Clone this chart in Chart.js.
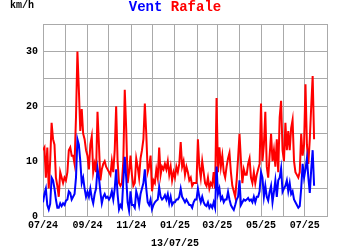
<!DOCTYPE html>
<html>
<head>
<meta charset="utf-8">
<script src="https://cdn.jsdelivr.net/npm/chart.js@4"></script>
<style>
body { margin: 0; background: #fff; }
#wrap { position: relative; width: 350px; height: 250px; }
.txt { position: absolute; font-family: "Liberation Mono", monospace; font-weight: bold; white-space: nowrap; }
</style>
</head>
<body>
<div id="wrap">
  <canvas id="chart" width="350" height="250"></canvas>
  <div class="txt" style="left:10px;top:0px;font-size:10px;color:#000">km/h</div>
  <div class="txt" style="left:0;width:350px;text-align:center;top:-1px;font-size:14px"><span style="color:#0000ff">Vent</span> <span style="color:#ff0000">Rafale</span></div>
  <div class="txt" style="left:0;width:350px;text-align:center;top:238px;font-size:10px;color:#000">13/07/25</div>
</div>
<script>
// one sample every 2 days, starting 01/07/24
const stepDays = 2

// month starts, in days since 01/07/24
const monthStarts = [0, 31, 62, 92, 123, 153, 184, 215, 243, 274, 304, 335, 365, 396]
const monthLabels = ['07/24', '', '09/24', '', '11/24', '', '01/25', '', '03/25', '', '05/25', '', '07/25', '']

// gusts (km/h)
const rafale = [
  12, 12.5, 7, 12.5, 5, 10, 17, 14, 13, 7, 5.5, 3.5, 8, 7, 6, 7,
  6.5, 8, 12, 12.5, 11, 11, 9.5, 18, 30, 23, 15.5, 19.5, 15, 14, 12,
  11, 8.5, 13, 14.5, 8, 9.5, 8, 19, 13, 6.5, 8.5, 9.5, 10, 9, 8.5,
  8, 7.5, 10, 8, 12, 20, 10, 6, 5.5, 6, 10, 23, 16, 6, 8,
  11, 7.5, 5.5, 6, 10.5, 9, 7, 10.5, 12, 14, 20.5, 15, 8, 9, 11,
  4.5, 6.5, 6, 8.5, 7, 12.5, 7.5, 9, 8.5, 9.5, 8.5, 10, 7.5, 9, 6.5, 8,
  7, 9, 8, 9.5, 13.5, 9, 10, 7.5, 9, 8, 6.5, 7, 5.5, 6, 6,
  6, 14, 9, 7, 10, 8, 6, 5.5, 7, 5, 6, 5.5, 8, 5, 21.5,
  8, 12.5, 9, 11, 8, 7, 9, 10.5, 11.5, 8, 5.5, 4.5, 3.5, 6.5, 10.5,
  15, 10, 6, 8.5, 7.5, 7.5, 9.5, 10.5, 7, 6, 8, 6, 7.5, 8.5, 9.5,
  20.5, 10, 13, 19, 9, 7, 11, 15, 10, 12, 9, 14, 8, 18, 21, 12,
  10, 17, 12, 15.5, 12, 16, 17.5, 10, 8, 7.5, 7, 8, 15, 11, 13,
  24, 13, 9.5, 14, 20, 25.5, 14
]

// mean wind (km/h)
const vent = [
  2.5, 4, 5, 2, 1.2, 2.2, 7, 6.5, 5, 3, 1.5, 1.5, 2.3, 1.8, 2.3, 2,
  2.8, 3, 4.5, 4.2, 3, 3.5, 4, 7, 14, 13, 10, 6, 7, 5, 3.5,
  4.4, 3.5, 5, 3.3, 2.3, 4, 5, 8.7, 7, 4.4, 2.3, 3.5, 4, 3.3, 3.5,
  3, 3.5, 4.5, 3, 5, 8.5, 4, 1.2, 2, 1.5, 6.5, 10.8, 7, 2.5, 1,
  4.5, 2, 2, 1.5, 4.5, 3.5, 2, 4, 5, 6, 8.5, 5, 2.5, 2, 3,
  1.2, 2, 2.5, 2.8, 3, 5.3, 3.5, 3, 3.3, 3.8, 3, 4, 2.3, 3.5, 2, 2.5,
  2.5, 3, 3, 3.5, 5, 3.5, 3, 2.5, 3, 2.5, 2, 2, 1.5, 2.5, 3,
  3, 5, 3.5, 2.5, 3.5, 2.5, 2, 1.8, 2.5, 1.5, 2, 1.5, 2.5, 1.5, 9,
  4, 5, 3, 3.5, 2.5, 3, 3, 4.4, 3, 2, 1.5, 1.1, 2, 3, 3.5,
  6.5, 2, 2.5, 3, 2.8, 3, 3.3, 2.8, 3, 2.5, 3.5, 2.5, 3.5, 3.5, 4.5,
  8, 7, 3.5, 5.5, 3.5, 2.8, 4.4, 5.5, 2.5, 4.4, 6.5, 3.5, 6.5, 7, 8.7, 4.4,
  5, 5.5, 6.5, 4.5, 6, 4, 4.5, 3, 2.5, 2, 1.5, 1.8, 5, 9.5, 7,
  8.5, 10.5, 7, 4.2, 8.5, 12, 5.5
]

const toPoints = arr => arr.map((v, i) => ({ x: i * stepDays, y: v }))
const gridColor = '#aaaaaa'
const tickFont = { family: 'Liberation Mono', weight: 'bold', size: 10 }

const ctx = document.getElementById('chart').getContext('2d')
const chart = new Chart(ctx, {
    type: 'line',
    data: {
        datasets: [{
            label: 'Vent',
            data: toPoints(vent),
            borderColor: '#0000ff',
            borderWidth: 2,
            pointRadius: 0,
            tension: 0,
            order: 0
        }, {
            label: 'Rafale',
            data: toPoints(rafale),
            borderColor: '#ff0000',
            borderWidth: 2,
            pointRadius: 0,
            tension: 0,
            order: 1
        }]
    },
    options: {
        responsive: false,
        animation: false,
        layout: { padding: { top: 24, right: 23, left: 0, bottom: 0 } },
        plugins: { legend: { display: false }, title: { display: false }, tooltip: { enabled: false } },
        scales: {
            x: {
                type: 'linear',
                min: monthStarts[0],
                max: monthStarts[monthStarts.length - 1],
                afterBuildTicks: s => { s.ticks = monthStarts.map(v => ({ value: v })) },
                afterFit: s => { s.height = 34 },
                grid: { color: gridColor, drawTicks: false, lineWidth: 1 },
                border: { color: gridColor },
                ticks: {
                    color: '#000',
                    font: tickFont,
                    padding: 3,
                    maxRotation: 0,
                    autoSkip: false,
                    callback: (v, i) => monthLabels[i]
                }
            },
            y: {
                min: 0,
                max: 35,
                afterFit: s => { s.width = 43 },
                grid: { color: gridColor, drawTicks: false, lineWidth: 1 },
                border: { color: gridColor },
                ticks: {
                    stepSize: 5,
                    color: '#000',
                    font: tickFont,
                    padding: 5,
                    callback: v => (v % 10 === 0 ? v : '')
                }
            }
        }
    }
})
</script>
</body>
</html>
